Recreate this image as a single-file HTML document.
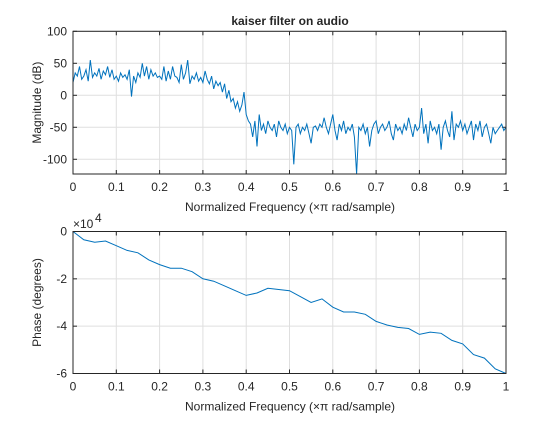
<!DOCTYPE html>
<html><head><meta charset="utf-8"><style>
body{margin:0;background:#fff}
svg text{font-family:"Liberation Sans",sans-serif;font-size:12px;fill:#262626}
</style></head><body>
<svg width="560" height="420" viewBox="0 0 560 420" xmlns="http://www.w3.org/2000/svg">
<rect width="560" height="420" fill="#fff"/>
<g id="g"></g>
</svg>
<script>
const magFreqStep = 0.005;
const magDb = [20,35,30,45,25,30,40,22,55,28,35,30,42,25,38,32,45,28,40,25,
30,22,35,28,32,25,40,-2,30,20,35,28,50,30,45,25,40,30,35,28,
30,25,45,22,38,25,45,30,28,20,48,25,35,55,18,30,25,35,22,28,
20,38,25,18,30,10,22,15,20,5,18,-5,8,-10,-5,-20,-10,-25,-15,5,
-30,-40,-45,-65,-40,-80,-30,-55,-45,-60,-40,-50,-55,-45,-65,-40,-50,-55,-45,-60,
-50,-55,-108,-50,-45,-60,-50,-55,-45,-60,-75,-50,-48,-55,-45,-50,-35,-50,-60,-45,
-30,-55,-70,-45,-55,-40,-60,-50,-55,-45,-65,-125,-50,-55,-45,-60,-50,-80,-55,-45,
-40,-60,-50,-45,-55,-50,-40,-60,-70,-45,-55,-50,-60,-45,-55,-35,-50,-65,-45,-55,
-50,-20,-60,-45,-75,-40,-55,-50,-60,-45,-85,-50,-40,-55,-65,-25,-70,-45,-50,-40,
-55,-45,-60,-50,-40,-70,-45,-55,-40,-65,-50,-45,-60,-75,-50,-60,-55,-50,-45,-55,-50];
const phaseFreqStep = 0.025;
const phase1e4 = [0,-0.35,-0.45,-0.4,-0.6,-0.8,-0.9,-1.2,-1.4,-1.55,-1.55,-1.7,-2.0,-2.1,-2.3,-2.5,-2.7,-2.6,-2.4,-2.45,-2.5,-2.75,-3.0,-2.85,-3.2,-3.4,-3.4,-3.5,-3.8,-3.95,-4.05,-4.1,-4.35,-4.25,-4.3,-4.6,-4.75,-5.2,-5.35,-5.8,-6.0];
const xTicks = [0,0.1,0.2,0.3,0.4,0.5,0.6,0.7,0.8,0.9,1];
const magTicks = [100,50,0,-50,-100];
const phaseTicks = [0,-2,-4,-6];

const NS="http://www.w3.org/2000/svg", g=document.getElementById('g');
function el(t,a,txt){const e=document.createElementNS(NS,t);for(const k in a)e.setAttribute(k,a[k]);if(txt!==undefined)e.textContent=txt;g.appendChild(e);return e;}
const X0=73,X1=506;
const xs=v=>X0+(X1-X0)*v;
function axes(name,T,B,ymin,ymax,yt,ylab){
  const ys=v=>B-(v-ymin)/(ymax-ymin)*(B-T);
  for(const t of xTicks){
    const l=el('line',{x1:xs(t),x2:xs(t),y1:T,y2:B,stroke:'#dfdfdf','stroke-width':1});
    
    const tk=el('text',{x:xs(t),y:B+17,'text-anchor':'middle'},String(t));
    
    el('line',{x1:xs(t),x2:xs(t),y1:B,y2:B-4,stroke:'#262626'});
    el('line',{x1:xs(t),x2:xs(t),y1:T,y2:T+4,stroke:'#262626'});
  }
  for(const t of yt){
    const l=el('line',{x1:X0,x2:X1,y1:ys(t),y2:ys(t),stroke:'#dfdfdf'});
    
    const tk=el('text',{x:X0-6,y:ys(t)+4,'text-anchor':'end'},String(t));
    
    el('line',{x1:X0,x2:X0+4,y1:ys(t),y2:ys(t),stroke:'#262626'});
    el('line',{x1:X1,x2:X1-4,y1:ys(t),y2:ys(t),stroke:'#262626'});
  }
  const yl=el('text',{x:0,y:0,'text-anchor':'middle','font-size':'13px',transform:`translate(41,${(T+B)/2}) rotate(-90)`},ylab);
  
  const xl=el('text',{x:290,y:B+37,'text-anchor':'middle','font-size':'13px'},'Normalized Frequency  (\u00D7\u03C0 rad/sample)');
  
  return ys;
}
function frame(name,T,B){const r=el('rect',{x:X0,y:T,width:X1-X0,height:B-T,fill:'none',stroke:'#262626','stroke-width':1});
}

const ysM=axes('magnitude',31.3,174,-123,100,magTicks,'Magnitude (dB)');
let d='';magDb.forEach((v,i)=>{const vv=Math.max(v,-123);d+=(i?'L':'M')+xs(i*magFreqStep).toFixed(1)+','+ysM(vv).toFixed(1);});
const p1=el('path',{d:d,fill:'none',stroke:'#0072bd','stroke-width':1});

frame('magnitude',31.3,174);
const ti=el('text',{x:290,y:25,'text-anchor':'middle','font-weight':'bold','font-size':'13px'},'kaiser filter on audio');


const ysP=axes('phase',231.5,373.5,-6,0,phaseTicks,'Phase (degrees)');
d='';phase1e4.forEach((v,i)=>{d+=(i?'L':'M')+xs(i*phaseFreqStep).toFixed(1)+','+ysP(v).toFixed(1);});
const p2=el('path',{d:d,fill:'none',stroke:'#0072bd','stroke-width':1});

frame('phase',231.5,373.5);
const ex=el('text',{x:73,y:228},'\u00D710');

const ex2=el('text',{x:95,y:222,'font-size':'9px'},'4');

</script>
</body></html>
